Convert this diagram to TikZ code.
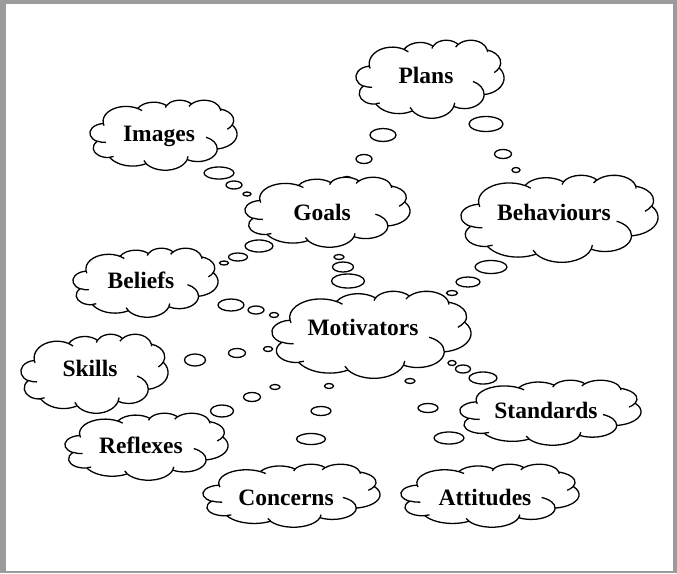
\documentclass[tikz,border=0pt]{standalone}
\usepackage{fontspec}
\setmainfont{Liberation Serif}
\definecolor{framegrey}{RGB}{155,155,155}
\begin{document}
% One arc of the cloud outline: radii and angles as in the 43200-unit preset
% (angles measured from the ellipse centre, converted to parametric angles).
\newcommand\cloudarc[4]{%
  \pgfmathsetmacro\clStart{atan2((#1)*sin(#3),(#2)*cos(#3))}%
  \pgfmathsetmacro\clStop{atan2((#1)*sin((#3)+(#4)),(#2)*cos((#3)+(#4)))}%
  \pgfmathsetmacro\clSweep{\clStop-\clStart}%
  \pgfmathsetmacro\clSweep{\clSweep+360*(((#4)>0)&&(\clSweep<0))-360*(((#4)<0)&&(\clSweep>0))}%
  \pgfmathsetmacro\clStop{\clStart+\clSweep}%
  \pgfpatharc{\clStart}{\clStop}{#1pt and #2pt}%
}
% Cloud outline with its inner curls, fitted to the box left/top/width/height
\newcommand\cloudshape[4]{%
  \begin{scope}[shift={(#1,#2)},xscale=#3/43.2,yscale=-#4/43.2,cloudline]
    \pgfsetfillcolor{white}%
    \pgfpathmoveto{\pgfpoint{3.9pt}{14.37pt}}%
    \cloudarc{6.753}{9.19}{-190.4875}{123.7805}%
    \cloudarc{5.333}{7.267}{-144.1024}{89.9452}%
    \cloudarc{4.365}{5.945}{-145.8079}{99.7230}%
    \cloudarc{4.857}{6.595}{-130.9861}{117.2417}%
    \cloudarc{5.333}{7.273}{-78.7089}{109.0269}%
    \cloudarc{6.775}{9.22}{-46.2673}{130.2690}%
    \cloudarc{5.785}{7.867}{0.6250}{114.0333}%
    \cloudarc{6.752}{9.215}{22.4516}{115.1726}%
    \cloudarc{7.72}{10.543}{66.2426}{75.7110}%
    \cloudarc{4.36}{5.918}{-274.9421}{146.7356}%
    \cloudarc{4.345}{5.945}{-246.8285}{152.5189}%
    \pgfpathclose
    \pgfusepath{fill,stroke}%
    \pgfpathmoveto{\pgfpoint{4.693pt}{26.177pt}}\cloudarc{4.345}{5.945}{86.7420}{26.4234}%
    \pgfpathmoveto{\pgfpoint{6.928pt}{34.899pt}}\cloudarc{4.36}{5.918}{73.6105}{11.4475}%
    \pgfpathmoveto{\pgfpoint{16.478pt}{39.09pt}}\cloudarc{6.752}{9.215}{137.6242}{14.0811}%
    \pgfpathmoveto{\pgfpoint{28.827pt}{34.751pt}}\cloudarc{6.752}{9.215}{6.4533}{15.9984}%
    \pgfpathmoveto{\pgfpoint{34.129pt}{22.954pt}}\cloudarc{5.785}{7.867}{-70.2924}{70.9174}%
    \pgfpathmoveto{\pgfpoint{41.798pt}{15.354pt}}\cloudarc{5.333}{7.273}{30.3180}{27.7515}%
    \pgfpathmoveto{\pgfpoint{38.324pt}{5.426pt}}\cloudarc{4.857}{6.595}{-13.7443}{14.8589}%
    \pgfpathmoveto{\pgfpoint{29.078pt}{3.952pt}}\cloudarc{4.857}{6.595}{-149.1815}{18.1954}%
    \pgfpathmoveto{\pgfpoint{22.141pt}{4.72pt}}\cloudarc{4.365}{5.945}{-163.4943}{17.6864}%
    \pgfpathmoveto{\pgfpoint{14pt}{5.192pt}}\cloudarc{6.753}{9.19}{-66.7070}{12.3194}%
    \pgfpathmoveto{\pgfpoint{4.127pt}{15.789pt}}\cloudarc{6.753}{9.19}{157.6544}{11.8582}%
    \pgfusepath{stroke}%
  \end{scope}}
\begin{tikzpicture}[x=1pt,y=-1pt,
  lbl/.style={font=\bfseries\fontsize{23.5}{28}\selectfont, inner sep=0pt, anchor=base},
  bubble/.style={draw=black, fill=white, line width=1.3pt},
  cloudline/.style={line width=1.3pt, line join=round}]
% frame
\fill[framegrey] (0,0) rectangle (677,573);
\fill[white] (6,4) rectangle (673,571);
\useasboundingbox (0,0) rectangle (677,573);

% thought bubbles between the clouds
% Plans -> Behaviours
\draw[bubble] (486,124) ellipse [x radius=17, y radius=7.5];
\draw[bubble] (503,154) ellipse [x radius=8.5, y radius=4.5];
\draw[bubble] (516,170) ellipse [x radius=4, y radius=2.5];
% Plans -> Goals
\draw[bubble] (383,135) ellipse [x radius=13, y radius=6.5];
\draw[bubble] (364,159) ellipse [x radius=8, y radius=4.5];
\draw[bubble] (347,179) ellipse [x radius=5, y radius=2.5];
% Images -> Goals
\draw[bubble] (219,173) ellipse [x radius=15, y radius=6];
\draw[bubble] (234,185) ellipse [x radius=8, y radius=4];
\draw[bubble] (247,194) ellipse [x radius=4, y radius=2];
% Goals -> Motivators
\draw[bubble] (339,257) ellipse [x radius=5, y radius=2.5];
\draw[bubble] (343,267) ellipse [x radius=10.5, y radius=5];
\draw[bubble] (348,281) ellipse [x radius=16.5, y radius=7];
% Goals -> Beliefs
\draw[bubble] (259,246) ellipse [x radius=14, y radius=6];
\draw[bubble] (238,257) ellipse [x radius=9.5, y radius=4];
\draw[bubble] (224,263) ellipse [x radius=4.5, y radius=2];
% Beliefs -> Motivators
\draw[bubble] (231,305) ellipse [x radius=13, y radius=6];
\draw[bubble] (256,310) ellipse [x radius=8, y radius=4];
\draw[bubble] (274,315) ellipse [x radius=4.5, y radius=2.5];
% Behaviours -> Motivators
\draw[bubble] (491,267) ellipse [x radius=16, y radius=6.5];
\draw[bubble] (468,282) ellipse [x radius=12, y radius=5];
\draw[bubble] (452,293) ellipse [x radius=5.5, y radius=2.5];
% Skills -> Motivators
\draw[bubble] (195,360) ellipse [x radius=10.5, y radius=6];
\draw[bubble] (237,353) ellipse [x radius=8.5, y radius=4.5];
\draw[bubble] (268,349) ellipse [x radius=4.5, y radius=2.5];
% Motivators -> Standards
\draw[bubble] (452,363) ellipse [x radius=4, y radius=2.5];
\draw[bubble] (463,369) ellipse [x radius=7.5, y radius=4];
\draw[bubble] (483,378) ellipse [x radius=14, y radius=6];
% Reflexes -> Motivators
\draw[bubble] (222,411) ellipse [x radius=11.5, y radius=6];
\draw[bubble] (252,397) ellipse [x radius=8.5, y radius=4.5];
\draw[bubble] (275,387) ellipse [x radius=5, y radius=2.5];
% Concerns -> Motivators
\draw[bubble] (311,439) ellipse [x radius=14.5, y radius=5.5];
\draw[bubble] (321,411) ellipse [x radius=10, y radius=4.5];
\draw[bubble] (329,386) ellipse [x radius=4.5, y radius=2.5];
% Attitudes -> Motivators
\draw[bubble] (449,438) ellipse [x radius=15, y radius=6];
\draw[bubble] (428,408) ellipse [x radius=10, y radius=4.5];
\draw[bubble] (410,381) ellipse [x radius=5, y radius=2.5];

% clouds
\cloudshape{356}{40}{148}{78}
\cloudshape{90}{100}{147}{70}
\cloudshape{245}{177}{165}{70}
\cloudshape{461}{175}{197}{87}
\cloudshape{73}{248}{145}{69}
\cloudshape{272}{291}{199}{87}
\cloudshape{21}{334}{147}{79}
\cloudshape{460}{380}{181}{65}
\cloudshape{65}{413}{163}{67}
\cloudshape{203}{464}{177}{63}
\cloudshape{401}{464}{178}{63}

% labels
\node[lbl] (plans)      at (426,83)  {Plans};
\node[lbl] (images)     at (159,141) {Images};
\node[lbl] (goals)      at (322,220) {Goals};
\node[lbl] (behaviours) at (554,220) {Behaviours};
\node[lbl] (beliefs)    at (141,288) {Beliefs};
\node[lbl] (motivators) at (363,335) {Motivators};
\node[lbl] (skills)     at (90,376)  {Skills};
\node[lbl] (standards)  at (546,418) {Standards};
\node[lbl] (reflexes)   at (141,453) {Reflexes};
\node[lbl] (concerns)   at (286,505) {Concerns};
\node[lbl] (attitudes)  at (485,505) {Attitudes};
\end{tikzpicture}
\end{document}
